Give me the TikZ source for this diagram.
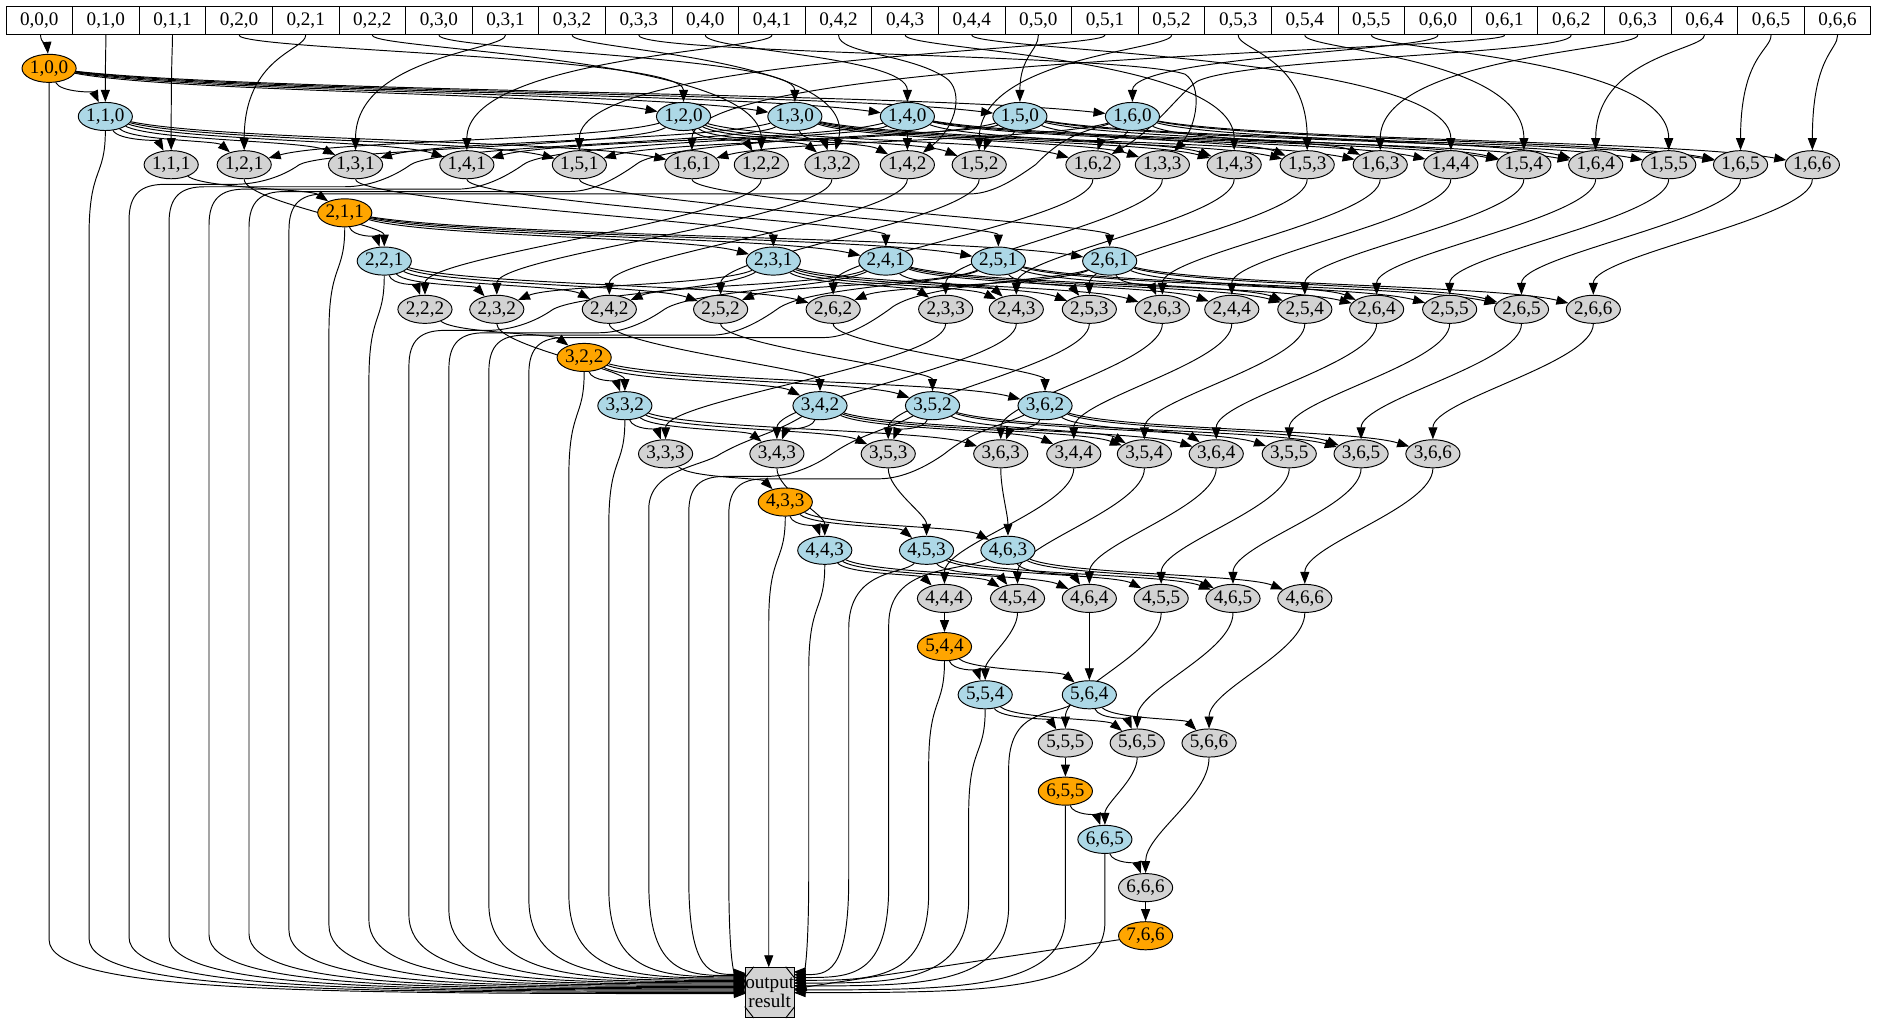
\documentclass[tikz,border=0pt]{standalone}
\usepackage{fontspec}
\setmainfont{Liberation Serif}
\usetikzlibrary{shapes.geometric,arrows.meta,calc}
\definecolor{gvorange}{HTML}{FFA500}
\definecolor{gvblue}{HTML}{ADD8E6}
\definecolor{gvgray}{HTML}{D3D3D3}
\pgfdeclarelayer{bg}
\pgfsetlayers{bg,main}
\newcommand\qlink[2]{%
  \coordinate (qa) at ($(#1)!0.2!(#2)$);%
  \coordinate (qb) at ($(#1)!0.8!(#2)$);%
  \coordinate (qm) at ($(#1)!0.5!(#2)$);%
  \draw[lnk] (#1) .. controls (qa |- qm) and (qb |- qm) .. (#2);}
\begin{document}
\begin{tikzpicture}[x=1pt,y=-1pt,
  nd/.style={ellipse,draw,line width=0.8pt,minimum width=44pt,minimum height=23.5pt,inner sep=0pt,font=\fontsize{16}{17}\selectfont},
  orn/.style={nd,fill=gvorange},
  blu/.style={nd,fill=gvblue},
  gry/.style={nd,fill=gvgray},
  cell/.style={rectangle,draw,line width=0.8pt,fill=white,minimum width=55.64pt,minimum height=24pt,inner sep=0pt,font=\fontsize{16}{17}\selectfont},
  lnk/.style={line width=0.8pt,-{Triangle[length=10pt,width=7.5pt]}}]
\useasboundingbox (0,0) rectangle (1568,853);
\coordinate (bandA) at (0,42);
\coordinate (bandB) at (0,47);
% record
\foreach \ii in {0,...,6}{\foreach \jj in {0,...,\ii}{
  \pgfmathsetmacro\cx{5+55.64*(\ii*(\ii+1)/2+\jj+0.5)}
  \node[cell] (n0\ii\jj) at (\cx,17) {0,\ii,\jj};
}}
% layer 1
\node[orn] (n100) at (41,57.1) {1,0,0};
\node[blu] (n110) at (88,97.3) {1,1,0};
\node[blu] (n120) at (571,97.3) {1,2,0};
\node[blu] (n130) at (664,97.3) {1,3,0};
\node[blu] (n140) at (758,97.3) {1,4,0};
\node[blu] (n150) at (852,97.3) {1,5,0};
\node[blu] (n160) at (946,97.3) {1,6,0};
\node[gry] (n111) at (143,137.6) {1,1,1};
\node[gry] (n121) at (204,137.6) {1,2,1};
\node[gry] (n131) at (297,137.6) {1,3,1};
\node[gry] (n141) at (390,137.6) {1,4,1};
\node[gry] (n151) at (484,137.6) {1,5,1};
\node[gry] (n161) at (578,137.6) {1,6,1};
\node[gry] (n122) at (636,137.6) {1,2,2};
\node[gry] (n132) at (695,137.6) {1,3,2};
\node[gry] (n142) at (758,137.6) {1,4,2};
\node[gry] (n152) at (818,137.6) {1,5,2};
\node[gry] (n162) at (913,137.6) {1,6,2};
\node[gry] (n133) at (971,137.6) {1,3,3};
\node[gry] (n143) at (1031,137.6) {1,4,3};
\node[gry] (n153) at (1092,137.6) {1,5,3};
\node[gry] (n163) at (1153,137.6) {1,6,3};
\node[gry] (n144) at (1212,137.6) {1,4,4};
\node[gry] (n154) at (1273,137.6) {1,5,4};
\node[gry] (n164) at (1333,137.6) {1,6,4};
\node[gry] (n155) at (1394,137.6) {1,5,5};
\node[gry] (n165) at (1454,137.6) {1,6,5};
\node[gry] (n166) at (1514,137.6) {1,6,6};
% layer 2
\node[orn] (n211) at (288,177.8) {2,1,1};
\node[blu] (n221) at (321,218.1) {2,2,1};
\node[blu] (n231) at (646,218.1) {2,3,1};
\node[blu] (n241) at (740,218.1) {2,4,1};
\node[blu] (n251) at (834,218.1) {2,5,1};
\node[blu] (n261) at (927,218.1) {2,6,1};
\node[gry] (n222) at (355,258.4) {2,2,2};
\node[gry] (n232) at (415,258.4) {2,3,2};
\node[gry] (n242) at (509,258.4) {2,4,2};
\node[gry] (n252) at (602,258.4) {2,5,2};
\node[gry] (n262) at (696,258.4) {2,6,2};
\node[gry] (n233) at (790,258.4) {2,3,3};
\node[gry] (n243) at (849,258.4) {2,4,3};
\node[gry] (n253) at (910,258.4) {2,5,3};
\node[gry] (n263) at (971,258.4) {2,6,3};
\node[gry] (n244) at (1029,258.4) {2,4,4};
\node[gry] (n254) at (1090,258.4) {2,5,4};
\node[gry] (n264) at (1150,258.4) {2,6,4};
\node[gry] (n255) at (1211,258.4) {2,5,5};
\node[gry] (n265) at (1271,258.4) {2,6,5};
\node[gry] (n266) at (1331,258.4) {2,6,6};
% layer 3
\node[orn] (n322) at (488,298.6) {3,2,2};
\node[blu] (n332) at (522,338.9) {3,3,2};
\node[blu] (n342) at (685,338.9) {3,4,2};
\node[blu] (n352) at (779,338.9) {3,5,2};
\node[blu] (n362) at (873,338.9) {3,6,2};
\node[gry] (n333) at (556,379.1) {3,3,3};
\node[gry] (n343) at (649,379.1) {3,4,3};
\node[gry] (n353) at (742,379.1) {3,5,3};
\node[gry] (n363) at (836,379.1) {3,6,3};
\node[gry] (n344) at (897,379.1) {3,4,4};
\node[gry] (n354) at (956,379.1) {3,5,4};
\node[gry] (n364) at (1016,379.1) {3,6,4};
\node[gry] (n355) at (1077,379.1) {3,5,5};
\node[gry] (n365) at (1137,379.1) {3,6,5};
\node[gry] (n366) at (1197,379.1) {3,6,6};
% layer 4
\node[orn] (n433) at (656,419.4) {4,3,3};
\node[blu] (n443) at (689,459.7) {4,4,3};
\node[blu] (n453) at (774,459.7) {4,5,3};
\node[blu] (n463) at (842,459.7) {4,6,3};
\node[gry] (n444) at (789,499.9) {4,4,4};
\node[gry] (n454) at (850,499.9) {4,5,4};
\node[gry] (n464) at (910,499.9) {4,6,4};
\node[gry] (n455) at (970,499.9) {4,5,5};
\node[gry] (n465) at (1030,499.9) {4,6,5};
\node[gry] (n466) at (1090,499.9) {4,6,6};
% layer 5
\node[orn] (n544) at (789,540.2) {5,4,4};
\node[blu] (n554) at (823,580.4) {5,5,4};
\node[blu] (n564) at (910,580.4) {5,6,4};
\node[gry] (n555) at (890,620.7) {5,5,5};
\node[gry] (n565) at (950,620.7) {5,6,5};
\node[gry] (n566) at (1010,620.7) {5,6,6};
% layer 6,7
\node[orn] (n655) at (890,660.9) {6,5,5};
\node[blu] (n665) at (923,701.2) {6,6,5};
\node[gry] (n666) at (957,741.5) {6,6,6};
\node[orn] (n766) at (957,781.7) {7,6,6};
% output
\node[draw,rectangle,line width=0.8pt,fill=gvgray,minimum width=40pt,minimum height=42pt,inner sep=0pt,align=center,font=\fontsize{16}{16}\selectfont] (out) at (643,829) {output\\result};
\draw[line width=0.8pt] ($(out.north west)+(7.5,0)$) -- ($(out.north west)+(0,9.5)$);
\draw[line width=0.8pt] ($(out.south west)+(7.5,0)$) -- ($(out.south west)+(0,-9.5)$);
\draw[line width=0.8pt] ($(out.north east)+(-7.5,0)$) -- ($(out.north east)+(0,9.5)$);
\draw[line width=0.8pt] ($(out.south east)+(-7.5,0)$) -- ($(out.south east)+(0,-9.5)$);

\begin{pgfonlayer}{bg}
% ---- layer 1 edges
\qlink{n000}{n100}
\foreach \ii in {1,...,6}{
  \qlink{n100}{n1\ii0}
  \draw[lnk] (n0\ii0) .. controls (n0\ii0 |- bandA) and (n1\ii0 |- bandB) .. (n1\ii0);
}
\foreach \jj in {1,...,6}{\foreach \ii in {\jj,...,6}{
  \qlink{n1\ii0}{n1\ii\jj}
  \ifnum\ii=\jj\relax\else\qlink{n1\jj0}{n1\ii\jj}\fi
  \pgfmathtruncatemacro\code{10*\ii+\jj}
  \ifnum\code=42\relax\else\ifnum\code=33\relax\else\ifnum\code=62\relax\else\ifnum\code=32\relax\else
    \draw[lnk] (n0\ii\jj) .. controls (n0\ii\jj |- bandA) and (n1\ii\jj |- bandB) .. (n1\ii\jj);
  \fi\fi\fi\fi
}}
\draw[lnk] (n042) .. controls (700.5,45) and (760,45) .. (790,65) .. controls (805,75) and (800,105) .. (n142);
\draw[lnk] (n033) .. controls (533.6,45) and (940,45) .. (990,62) .. controls (1005,72) and (1000,105) .. (n133);
\draw[lnk] (n062) .. controls (1312.5,45) and (1040,48) .. (1000,68) .. controls (985,78) and (965,108) .. (n162);
\draw[lnk] (n032) .. controls (n032 |- bandA) and (718,47) .. (n132);
% ---- layers 2..6
\foreach \kk in {2,...,6}{
  \pgfmathtruncatemacro\dd{\kk-1}
  \qlink{n\dd\dd\dd}{n\kk\dd\dd}
  \foreach \ii in {\kk,...,6}{
    \qlink{n\kk\dd\dd}{n\kk\ii\dd}
    \draw[lnk] (n\dd\ii\dd) .. controls +(0,30) and +(0,-30) .. (n\kk\ii\dd);
  }
  \foreach \jj in {\kk,...,6}{\foreach \ii in {\jj,...,6}{
    \qlink{n\kk\ii\dd}{n\kk\ii\jj}
    \ifnum\ii=\jj\relax\else\qlink{n\kk\jj\dd}{n\kk\ii\jj}\fi
    \draw[lnk] (n\dd\ii\jj) .. controls +(0,45) and +(0,-45) .. (n\kk\ii\jj);
  }}
}
\qlink{n666}{n766}
% ---- edges to output
\draw[lnk] (n100) -- (41,785) .. controls (41,830) and (273.8,830) .. (623,830);
\draw[lnk] (n110) .. controls (88,149) and (74.4,139) .. (74.4,197) -- (74.4,784) .. controls (74.4,829) and (293.8,829) .. (623,829);
\draw[lnk] (n120) .. controls (531,122) and (275,124) .. (250,137.6) .. controls (235,148.2) and (215,154) .. (195,154) -- (137.8,154) .. controls (117.8,154) and (107.8,162) .. (107.8,184) -- (107.8,783) .. controls (107.8,828) and (313.9,828) .. (623,828);
\draw[lnk] (n130) .. controls (624,119) and (368,121) .. (343,137.6) .. controls (328,148.2) and (308,156) .. (288,156) -- (171.2,156) .. controls (151.2,156) and (141.2,164) .. (141.2,186) -- (141.2,782) .. controls (141.2,827) and (333.9,827) .. (623,827);
\draw[lnk] (n140) .. controls (718,116) and (462,118) .. (437,137.6) .. controls (422,148.2) and (402,158) .. (382,158) -- (204.6,158) .. controls (184.6,158) and (174.6,166) .. (174.6,188) -- (174.6,781) .. controls (174.6,826) and (354,826) .. (623,826);
\draw[lnk] (n150) .. controls (812,113) and (556,115) .. (531,137.6) .. controls (516,148.2) and (496,160) .. (476,160) -- (238,160) .. controls (218,160) and (208,168) .. (208,190) -- (208,780) .. controls (208,825) and (374,825) .. (623,825);
\draw[lnk] (n160) .. controls (906,110) and (890,112) .. (865,137.6) .. controls (850,148.2) and (830,162) .. (810,162) -- (271.4,162) .. controls (251.4,162) and (241.4,170) .. (241.4,192) -- (241.4,777.2) .. controls (241.4,824) and (394,824) .. (623,824);
\draw[lnk] (n211) .. controls (288,229.8) and (274.8,219.8) .. (274.8,277.8) -- (274.8,772.8) .. controls (274.8,823) and (414.1,823) .. (623,823);
\draw[lnk] (n221) .. controls (321,270.1) and (308.2,260.1) .. (308.2,318.1) -- (308.2,768.5) .. controls (308.2,822) and (434.1,822) .. (623,822);
\draw[lnk] (n231) .. controls (606,243) and (487,245) .. (462,258.4) .. controls (447,269) and (427,276) .. (407,276) -- (371.6,276) .. controls (351.6,276) and (341.6,284) .. (341.6,306) -- (341.6,764.1) .. controls (341.6,821) and (454.2,821) .. (623,821);
\draw[lnk] (n241) .. controls (700,240) and (580,242) .. (555,258.4) .. controls (540,269) and (520,278) .. (500,278) -- (405,278) .. controls (385,278) and (375,286) .. (375,308) -- (375,759.8) .. controls (375,820) and (474.2,820) .. (623,820);
\draw[lnk] (n251) .. controls (794,237) and (674,239) .. (649,258.4) .. controls (634,269) and (614,280) .. (594,280) -- (438.4,280) .. controls (418.4,280) and (408.4,288) .. (408.4,310) -- (408.4,755.5) .. controls (408.4,819) and (494.2,819) .. (623,819);
\draw[lnk] (n261) .. controls (887,234) and (768,236) .. (743,258.4) .. controls (728,269) and (708,282) .. (688,282) -- (471.8,282) .. controls (451.8,282) and (441.8,290) .. (441.8,312) -- (441.8,751.1) .. controls (441.8,818) and (514.3,818) .. (623,818);
\draw[lnk] (n322) .. controls (488,350.6) and (475.2,340.6) .. (475.2,398.6) -- (475.2,746.8) .. controls (475.2,817) and (534.3,817) .. (623,817);
\draw[lnk] (n332) .. controls (522,390.9) and (508.6,380.9) .. (508.6,438.9) -- (508.6,742.4) .. controls (508.6,816) and (554.4,816) .. (623,816);
\draw[lnk] (n342) .. controls (645,363) and (627,365) .. (602,379.1) .. controls (587,389.7) and (542,392) .. (542,425) -- (542,738.1) .. controls (542,815) and (574.4,815) .. (623,815);
\draw[lnk] (n352) .. controls (739,360) and (720,362) .. (695,379.1) .. controls (680,389.7) and (660,398) .. (640,398) -- (605.4,398) .. controls (585.4,398) and (575.4,406) .. (575.4,428) -- (575.4,733.8) .. controls (575.4,814) and (594.4,814) .. (623,814);
\draw[lnk] (n362) .. controls (833,357) and (814,359) .. (789,379.1) .. controls (774,389.7) and (754,400) .. (734,400) -- (638.8,400) .. controls (618.8,400) and (608.8,408) .. (608.8,430) -- (608.8,729.4) .. controls (608.8,813) and (614.5,813) .. (623,813);
\draw[lnk] (n433) .. controls (656,471.4) and (642.2,461.4) .. (642.2,519.4) -- (642.2,808);
\draw[lnk] (n443) .. controls (689,511.7) and (675.6,501.7) .. (675.6,559.7) -- (675.6,728.2) .. controls (675.6,811.9) and (670.6,811.9) .. (663,811.9);
\draw[lnk] (n453) .. controls (755,480) and (709,475) .. (709,525) -- (709,733.8) .. controls (709,814.2) and (690.6,814.2) .. (663,814.2);
\draw[lnk] (n463) .. controls (800,478) and (742.4,472) .. (742.4,522) -- (742.4,739.5) .. controls (742.4,816.6) and (710.6,816.6) .. (663,816.6);
\draw[lnk] (n544) .. controls (789,592.2) and (775.8,582.2) .. (775.8,640.2) -- (775.8,745.2) .. controls (775.8,818.9) and (730.7,818.9) .. (663,818.9);
\draw[lnk] (n554) .. controls (823,632.4) and (809.2,622.4) .. (809.2,680.4) -- (809.2,750.8) .. controls (809.2,821.2) and (750.7,821.2) .. (663,821.2);
\draw[lnk] (n564) .. controls (878,598) and (842.6,592) .. (842.6,642) -- (842.6,756.6) .. controls (842.6,823.6) and (770.8,823.6) .. (663,823.6);
\draw[lnk] (n655) -- (890,764.6) .. controls (890,826.9) and (799.2,826.9) .. (663,826.9);
\draw[lnk] (n665) -- (923,770.2) .. controls (923,829.2) and (819,829.2) .. (663,829.2);
\draw[lnk] (n766) -- (out);
\end{pgfonlayer}
\end{tikzpicture}
\end{document}
